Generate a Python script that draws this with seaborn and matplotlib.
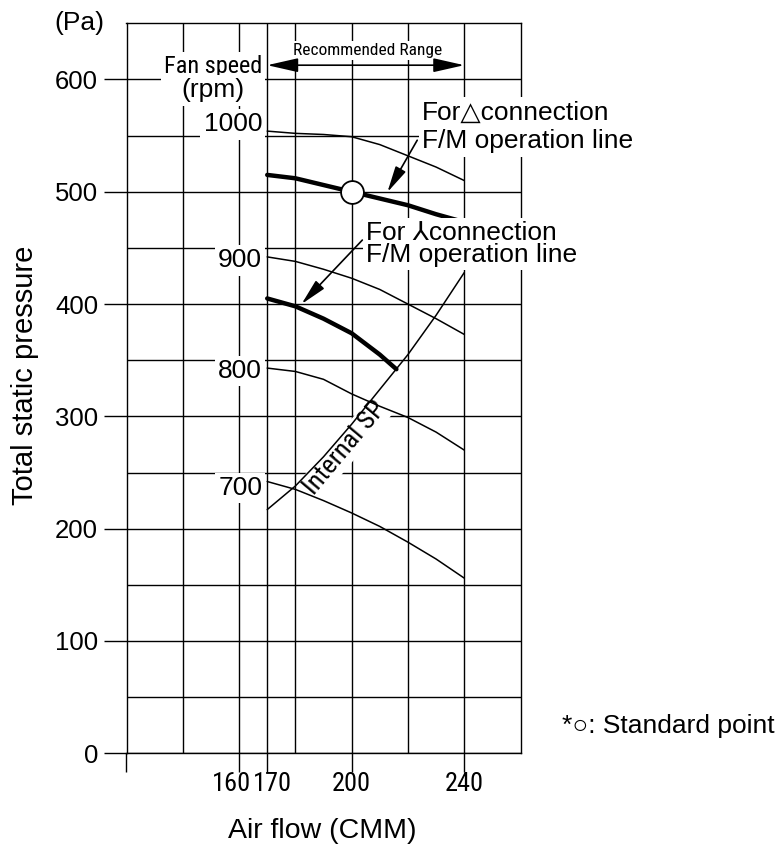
import matplotlib
matplotlib.use("Agg")
import matplotlib.pyplot as plt
import matplotlib.transforms as mtransforms
from matplotlib import font_manager as fm
from matplotlib.patches import ArrowStyle
import seaborn as sns

# ---- data -------------------------------------------------------------
airflow = [170, 180, 190, 200, 210, 220, 230, 240]          # CMM
rpm_1000 = [554, 552, 551, 549, 542, 532, 522, 510]          # Pa
rpm_900 = [442, 438, 431, 423, 413, 400, 387, 373]
rpm_800 = [343, 340, 333, 320, 309, 299, 286, 270]
rpm_700 = [242, 235, 225, 214, 202, 188, 173, 156]
speed_labels = ["1000", "900", "800", "700"]

internal_sp = [217, 238, 264, 293, 324, 355, 390, 428]

delta_op = [515, 512, 506, 500, 494, 488, 480, 473]          # delta connection
star_airflow = [170, 180, 190, 200, 210, 215.9]              # star connection
star_op = [405, 398, 387, 374, 355, 342]

standard_airflow = [200]
standard_pressure = [500]
recommended_range = [170, 240]

xtick_values = [120, 160, 170, 200, 240]
xtick_labels = ["", "160", "170", "200", "240"]
xtick_shift_px = [0, -8, 5, 0, 0]
ytick_values = [0, 100, 200, 300, 400, 500, 600]
ytick_labels = ["0", "100", "200", "300", "400", "500", "600"]
xgrid_minor = [140, 180, 220]
ygrid_minor = [50, 150, 250, 350, 450, 550]

# ---- style ------------------------------------------------------------
sns.set_theme(style="white")
plt.rcParams["font.family"] = ["Liberation Sans", "DejaVu Sans"]
for key in ("text.color", "axes.labelcolor", "xtick.color", "ytick.color"):
    plt.rcParams[key] = "black"
REG = ["Liberation Sans", "DejaVu Sans"]
FS = 18.5


def narrow_font(size):
    """Return a condensed sans-serif face if one is installed."""
    entries = fm.fontManager.ttflist
    for wanted in ("Liberation Sans Narrow", "Arial Narrow", "Roboto Condensed"):
        for f in entries:
            if f.name == wanted and f.style == "normal" and f.weight in (400, "normal", "regular"):
                return fm.FontProperties(fname=f.fname, size=size)
    for f in entries:
        low = f.fname.lower()
        if ("condensed" in low or "narrow" in low) and "sans" in low \
                and "mono" not in low and "bold" not in low and "oblique" not in low \
                and "italic" not in low and "serif" not in low.replace("sans", ""):
            return fm.FontProperties(fname=f.fname, size=size)
    return fm.FontProperties(family=REG, size=size * 0.9)


fig = plt.figure(figsize=(7.82, 8.46), dpi=100)
W, H = 782, 846
ax = fig.add_axes([126.5 / W, 1 - 753.3 / H, (520.5 - 126.5) / W, (753.3 - 23.3) / H])
ax.set_xlim(120, 260)
ax.set_ylim(0, 650)

for s in ax.spines.values():
    s.set_color("black")
    s.set_linewidth(1.0)

# grid
ax.set_axisbelow(True)
ax.set_xticks(xtick_values)
ax.set_xticks(xgrid_minor, minor=True)
ax.set_yticks(ytick_values)
ax.set_yticks(ygrid_minor, minor=True)
ax.set_xticklabels([""] * len(xtick_values))
ax.set_yticklabels(ytick_labels, fontsize=FS, family=REG, color="black")
ax.grid(True, which="both", color="black", linewidth=1.0)
ax.tick_params(axis="x", which="major", length=13.7, width=1.0, color="black",
               direction="out", bottom=True)
ax.tick_params(axis="y", which="major", length=16.5, width=1.0, color="black",
               direction="out", left=True, pad=4)
ax.tick_params(which="minor", length=0)

# x tick labels, nudged apart where 160 and 170 crowd each other
xlab_trans = mtransforms.blended_transform_factory(ax.transData, ax.transAxes)
for xv, lab, dx in zip(xtick_values, xtick_labels, xtick_shift_px):
    if not lab:
        continue
    off = mtransforms.ScaledTranslation(dx / 100, -19 / 100, fig.dpi_scale_trans)
    ax.text(xv, 0, lab, transform=xlab_trans + off, ha="center", va="top",
            fontproperties=narrow_font(FS + 0.5))

# fan speed curves
for vals in (rpm_1000, rpm_900, rpm_800, rpm_700):
    sns.lineplot(x=airflow, y=vals, ax=ax, color="black", linewidth=1.1,
                 estimator=None, sort=False, zorder=3)

# internal static pressure
sns.lineplot(x=airflow, y=internal_sp, ax=ax, color="black", linewidth=1.1,
             estimator=None, sort=False, zorder=3)

# fan motor operation lines
sns.lineplot(x=airflow, y=delta_op, ax=ax, color="black", linewidth=3.2,
             estimator=None, sort=False, zorder=4)
sns.lineplot(x=star_airflow, y=star_op, ax=ax, color="black", linewidth=3.2,
             estimator=None, sort=False, zorder=4)

# standard point
sns.scatterplot(x=standard_airflow, y=standard_pressure, ax=ax, s=270,
                facecolor="white", edgecolor="black", linewidth=1.3, zorder=6)

white = dict(boxstyle="square,pad=0.12", fc="white", ec="none")

# rpm labels at curve starts
for lab, yb in zip(speed_labels, [553.7, 432.6, 334.0, 230.0]):
    ax.text(168.2, yb, lab, ha="right", va="baseline", fontsize=FS + 0.5,
            family=REG, bbox=white, zorder=5)

ax.text(150.8, 605.6, "Fan speed", ha="center", va="baseline",
        fontproperties=narrow_font(17.5), bbox=white, zorder=5)
ax.text(150.8, 584.0, "(rpm)", ha="center", va="baseline", fontsize=FS + 0.5,
        family=REG, bbox=white, zorder=5)

# recommended range
ax.text(205.6, 621.6, "Recommended Range", ha="center", va="baseline",
        fontproperties=narrow_font(12.5),
        bbox=dict(boxstyle="square,pad=0.1", fc="white", ec="none"), zorder=5)
ax.annotate("", xy=(recommended_range[0], 612.7), xytext=(recommended_range[1], 612.7),
            arrowprops=dict(arrowstyle=ArrowStyle("<|-|>", head_length=1.9, head_width=0.43),
                            mutation_scale=10, color="black", lw=1.2,
                            shrinkA=0, shrinkB=0), zorder=6)

# delta connection label and pointer
ax.text(225.1, 564.4, "For\u25b3connection", ha="left", va="baseline",
        fontsize=FS + 0.5, family=REG, bbox=white, zorder=7)
ax.text(225.1, 538.6, "F/M operation line", ha="left", va="baseline",
        fontsize=FS + 0.5, family=REG, bbox=white, zorder=7)
ax.annotate("", xy=(212.7, 499.6), xytext=(223.3, 545.9),
            arrowprops=dict(arrowstyle=ArrowStyle("-|>", head_length=1.6, head_width=0.35),
                            mutation_scale=10, color="black", lw=1.2,
                            shrinkA=0, shrinkB=0), zorder=7)

# star connection label and pointer
ax.text(205.2, 457.0, "For \u2144connection", ha="left", va="baseline",
        fontsize=FS + 0.5, family=REG, bbox=white, zorder=7)
ax.text(205.2, 437.4, "F/M operation line", ha="left", va="baseline",
        fontsize=FS + 0.5, family=REG, bbox=white, zorder=7)
ax.annotate("", xy=(182.2, 400.0), xytext=(203.8, 457.0),
            arrowprops=dict(arrowstyle=ArrowStyle("-|>", head_length=1.6, head_width=0.35),
                            mutation_scale=10, color="black", lw=1.2,
                            shrinkA=0, shrinkB=0), zorder=7)

# internal SP label along its curve
ax.text(197.8, 271.8, "Internal SP", ha="center", va="center", rotation=50,
        rotation_mode="anchor", fontproperties=narrow_font(FS + 0.5),
        bbox=dict(boxstyle="square,pad=0.08", fc="white", ec="none"), zorder=2.5)

# figure-level texts
fig.text(79 / W, 1 - 30 / H, "(Pa)", ha="center", va="baseline", fontsize=FS + 0.5, family=REG)
fig.text(775 / W, 1 - 733 / H, "*\u25cb: Standard point", ha="right", va="baseline",
         fontsize=FS + 0.5, family=REG)
fig.text(25 / W, 1 - 375 / H, "Total static pressure", ha="center", va="center",
         rotation=90, fontsize=21, family=REG)
fig.text(322 / W, 1 - 838 / H, "Air flow (CMM)", ha="center", va="baseline",
         fontsize=20.5, family=REG)

fig.savefig("out.png", dpi=100, facecolor="white")
